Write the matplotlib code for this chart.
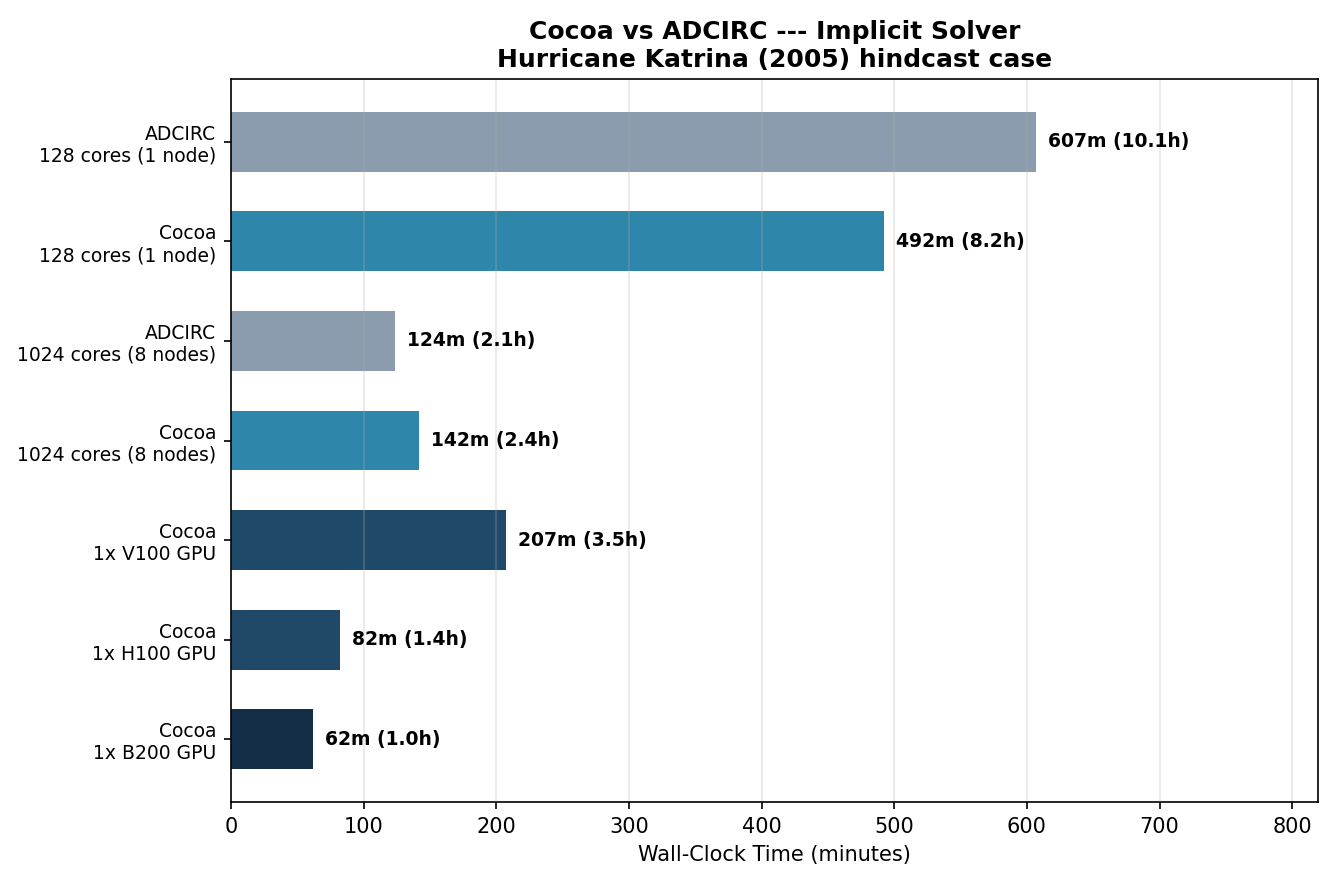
#!/usr/bin/env python3
"""Wall-clock comparison of Cocoa and ADCIRC on the Katrina hindcast"""
import matplotlib
matplotlib.use('agg')
import matplotlib.pyplot as plt

labels = ['ADCIRC\n128 cores (1 node)', 'Cocoa\n128 cores (1 node)',
          'ADCIRC\n1024 cores (8 nodes)', 'Cocoa\n1024 cores (8 nodes)',
          'Cocoa\n1x V100 GPU', 'Cocoa\n1x H100 GPU', 'Cocoa\n1x B200 GPU']
minutes = [607, 492, 124, 142, 207, 82, 62]
colors = ['#8a9cae', '#2e86ab', '#8a9cae', '#2e86ab', '#1e4968', '#1f4966', '#122d45']


def main():
    fig = plt.figure(figsize=(1333 / 150, 883 / 150), dpi=150)
    ax = fig.add_axes([231 / 1333, 81 / 883, 1087 / 1333, 723 / 883])
    ypos = list(range(len(labels)))
    ax.barh(ypos, minutes, height=0.6, color=colors)
    ax.invert_yaxis()
    ax.set_yticks(ypos)
    ax.set_yticklabels(labels, fontsize=9)
    for y, m in zip(ypos, minutes):
        ax.text(m + 9, y, '{}m ({:.1f}h)'.format(m, m / 60.0), va='center',
                ha='left', fontsize=9, fontweight='bold')
    ax.set_xlim(0, max(minutes) * 1.35)
    ax.grid(axis='x', alpha=0.3)
    ax.tick_params(axis='x', labelsize=10)
    ax.set_xlabel('Wall-Clock Time (minutes)', fontsize=10)
    ax.set_title('Cocoa vs ADCIRC --- Implicit Solver\nHurricane Katrina (2005) hindcast case',
                 fontsize=12, fontweight='bold')
    fig.savefig('out.png', dpi=150)


if __name__ == '__main__':
    main()
